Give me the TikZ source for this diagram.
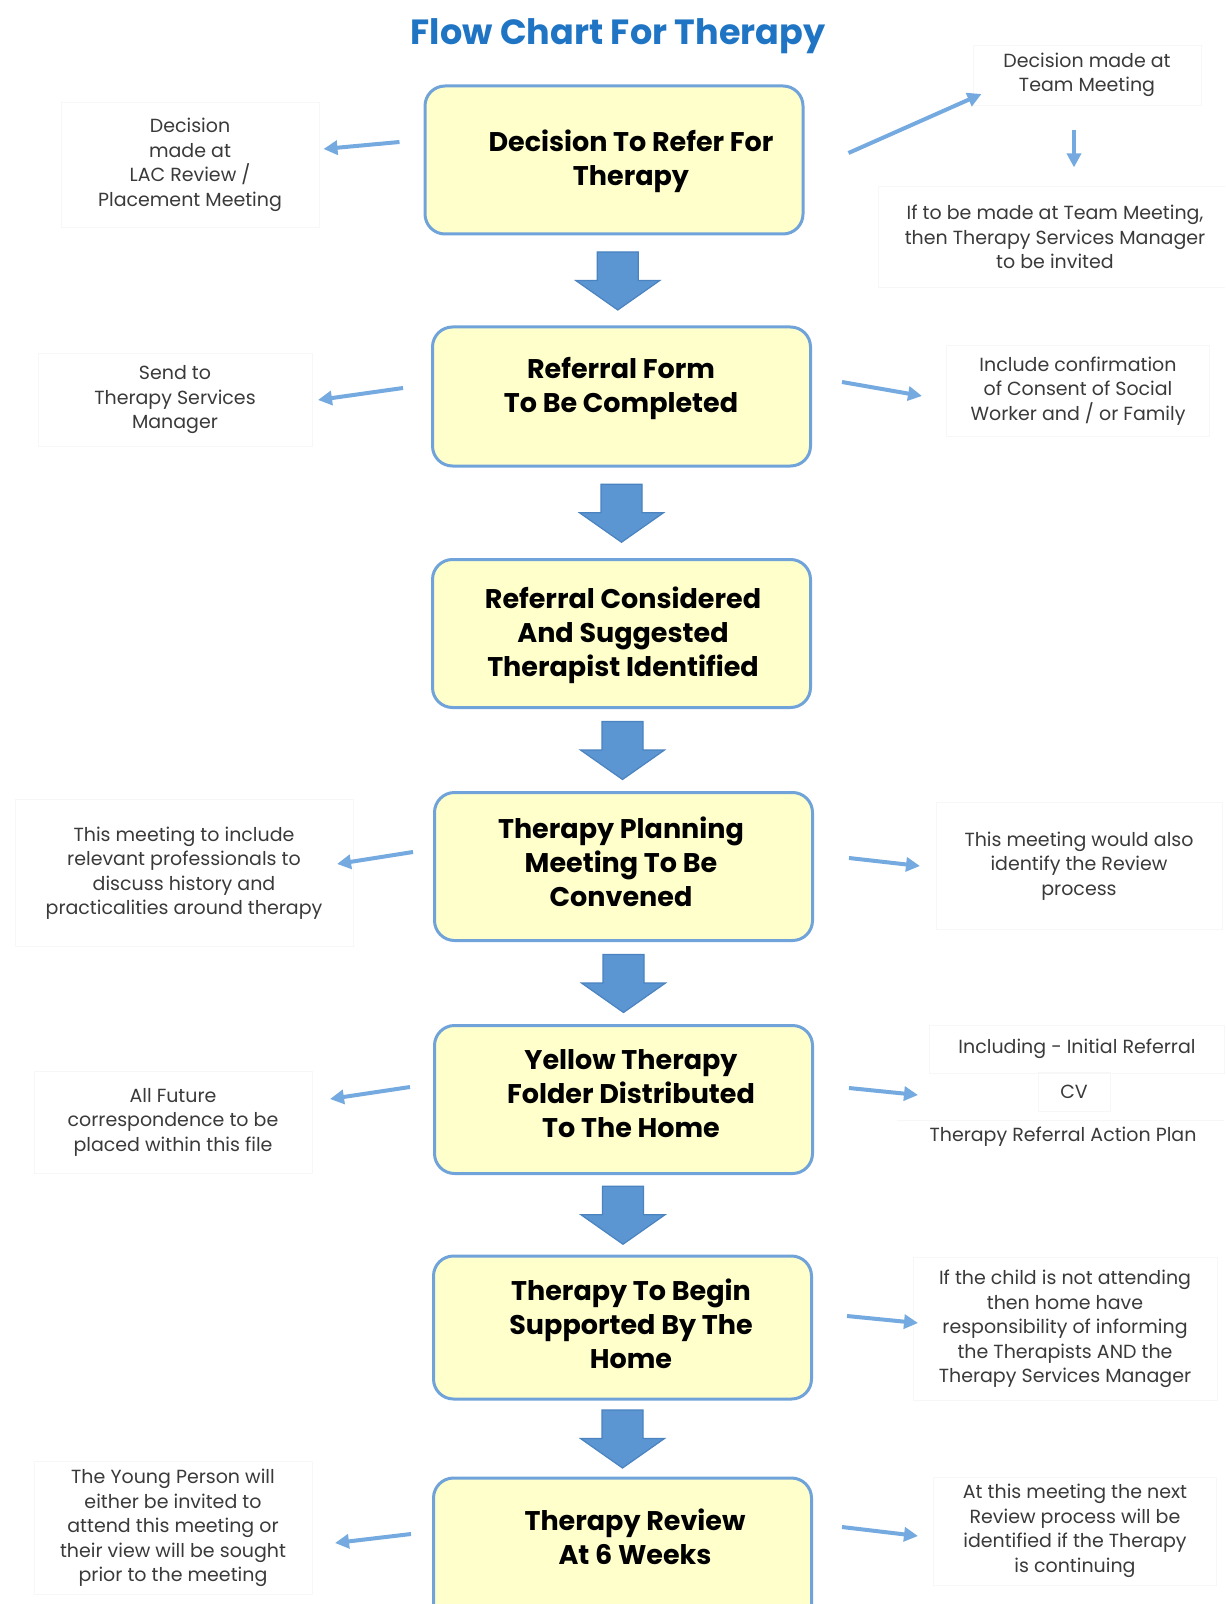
\documentclass[tikz,border=0pt]{standalone}
\usepackage{fontspec}
\setmainfont{Poppins}
\usetikzlibrary{arrows.meta,calc}

\definecolor{titleblue}{HTML}{1F75C4}
\definecolor{boxfill}{HTML}{FFFFCC}
\definecolor{boxline}{HTML}{6FA3DA}
\definecolor{arrowfill}{HTML}{5B96D3}
\definecolor{arrowline}{HTML}{4A83C0}
\definecolor{sideblue}{HTML}{74AADF}
\definecolor{notetext}{HTML}{3A3A3A}

\tikzset{
  stepbox/.style={draw=boxline, line width=1.5pt, fill=boxfill, rounded corners=10pt,
    minimum width=189pt, minimum height=74pt},
  steptext/.style={font=\fontsize{13.5}{17}\selectfont\bfseries, align=center},
  note/.style={font=\fontsize{9.5}{12.25}\selectfont, text=notetext, align=center,
    draw=black!3, line width=0.4pt},
  sidearrow/.style={draw=sideblue, line width=2pt, -{Triangle[length=7pt,width=7pt]}},
  downarrow/.pic={
    \filldraw[fill=arrowfill, draw=arrowline, line width=0.6pt]
      (-20.5,-28.5) -- (20.5,-28.5) -- (20.5,0) -- (42,0) -- (0,29.5)
      -- (-42,0) -- (-20.5,0) -- cycle;
  }
}

\begin{document}
\begin{tikzpicture}[x=0.5pt,y=-0.5pt]
  \clip (0,0) rectangle (1225,1604);
  \fill[white] (0,0) rectangle (1225,1604);

  \node[font=\fontsize{17.5}{21}\selectfont\bfseries, text=titleblue] (title) at (618,36) {Flow Chart For Therapy};

  % main steps
  \node[stepbox] (b1) at (614,160) {};
  \node[stepbox, minimum height=69.5pt] (b2) at (621.5,396.5) {};
  \node[stepbox] (b3) at (621.5,633.5) {};
  \node[stepbox] (b4) at (623.5,866.5) {};
  \node[stepbox] (b5) at (623.5,1099.5) {};
  \node[stepbox, minimum height=71.5pt] (b6) at (622.5,1327.5) {};
  \node[stepbox, minimum height=81pt] (b7) at (622.5,1559) {};

  \node[steptext] (t1) at (631,161) {Decision To Refer For\\Therapy};
  \node[steptext] (t2) at (621,389) {Referral Form\\To Be Completed};
  \node[steptext] (t3) at (623,635) {Referral Considered\\And Suggested\\Therapist Identified};
  \node[steptext] (t4) at (621,862) {Therapy Planning\\Meeting To Be\\Convened};
  \node[steptext] (t5) at (631,1094) {Yellow Therapy\\Folder Distributed\\To The Home};
  \node[steptext] (t6) at (631,1324) {Therapy To Begin\\Supported By The\\Home};
  \node[steptext] (t7) at (635,1537) {Therapy Review\\At 6 Weeks};

  \foreach \a/\b in {b1/b2,b2/b3,b3/b4,b4/b5,b5/b6,b6/b7}
    \pic at ($(\a.south)!0.5!(\b.north)$) {downarrow};

  % side notes
  \node[note, minimum width=129pt, minimum height=62.5pt] (l1) at (190,165) {Decision\\made at\\LAC Review /\\Placement Meeting};
  \node[note, minimum width=114pt, minimum height=30pt] (r1a) at (1087,75) {Decision made at\\Team Meeting};
  \node[note, minimum width=176.5pt, minimum height=50.5pt] (r1b) at (1055,237) {If to be made at Team Meeting,\\then Therapy Services Manager\\to be invited};
  \node[note, minimum width=137pt, minimum height=46.5pt] (l2) at (175,400) {Send to\\Therapy Services\\Manager};
  \node[note, minimum width=131.5pt, minimum height=45.5pt] (r2) at (1078,391) {Include confirmation\\of Consent of Social\\Worker and / or Family};
  \node[note, minimum width=169pt, minimum height=73.5pt] (l4) at (184,873) {This meeting to include\\relevant professionals to\\discuss history and\\practicalities around therapy};
  \node[note, minimum width=143pt, minimum height=63.5pt] (r4) at (1079,866) {This meeting would also\\identify the Review\\process};
  \node[note, minimum width=139pt, minimum height=51pt] (l5) at (173,1122) {All Future\\correspondence to be\\placed within this file};
  \node[note, minimum width=147.5pt, minimum height=24pt] (r5a) at (1077,1049) {Including - Initial Referral};
  \node[note, minimum width=36pt, minimum height=19.5pt] (r5b) at (1074,1092) {CV};
  \node[note, draw=none] (r5c) at (1063,1137) {Therapy Referral Action Plan};
  \node[note, minimum width=152pt, minimum height=71.5pt] (r6) at (1065,1329) {If the child is not attending\\then home have\\responsibility of informing\\the Therapists AND the\\Therapy Services Manager};
  \node[note, minimum width=139pt, minimum height=66.5pt] (l7) at (173,1528) {The Young Person will\\either be invited to\\attend this meeting or\\their view will be sought\\prior to the meeting};
  \node[note, minimum width=141.5pt, minimum height=54pt] (r7) at (1075,1531) {At this meeting the next\\Review process will be\\identified if the Therapy\\is continuing};
  \draw[black!3, line width=0.4pt] (r5a.south west) ++(-32,47) -- ++(327,0);

  % side arrows
  \draw[sidearrow] (b1.west) ++(-24,-18) -- ++(-76,7);
  \draw[sidearrow] (b1.east) ++(44,-7) -- ++(133,-59);
  \draw[sidearrow] (r1a.south) ++(-13,25) -- ++(0,37);
  \draw[sidearrow] (b2.west) ++(-28,-8.5) -- ++(-85,12);
  \draw[sidearrow] (b2.east) ++(30,-14.5) -- ++(80,14);
  \draw[sidearrow] (b4.west) ++(-20,-14.5) -- ++(-76,12);
  \draw[sidearrow] (b4.east) ++(35,-8.5) -- ++(71,8);
  \draw[sidearrow] (b5.west) ++(-23,-12.5) -- ++(-80,12);
  \draw[sidearrow] (b5.east) ++(35,-11.5) -- ++(69,7);
  \draw[sidearrow] (b6.east) ++(34,-11.5) -- ++(71,7);
  \draw[sidearrow] (b7.west) ++(-21,-25) -- ++(-76,9);
  \draw[sidearrow] (b7.east) ++(29,-32) -- ++(76,9);
\end{tikzpicture}
\end{document}
